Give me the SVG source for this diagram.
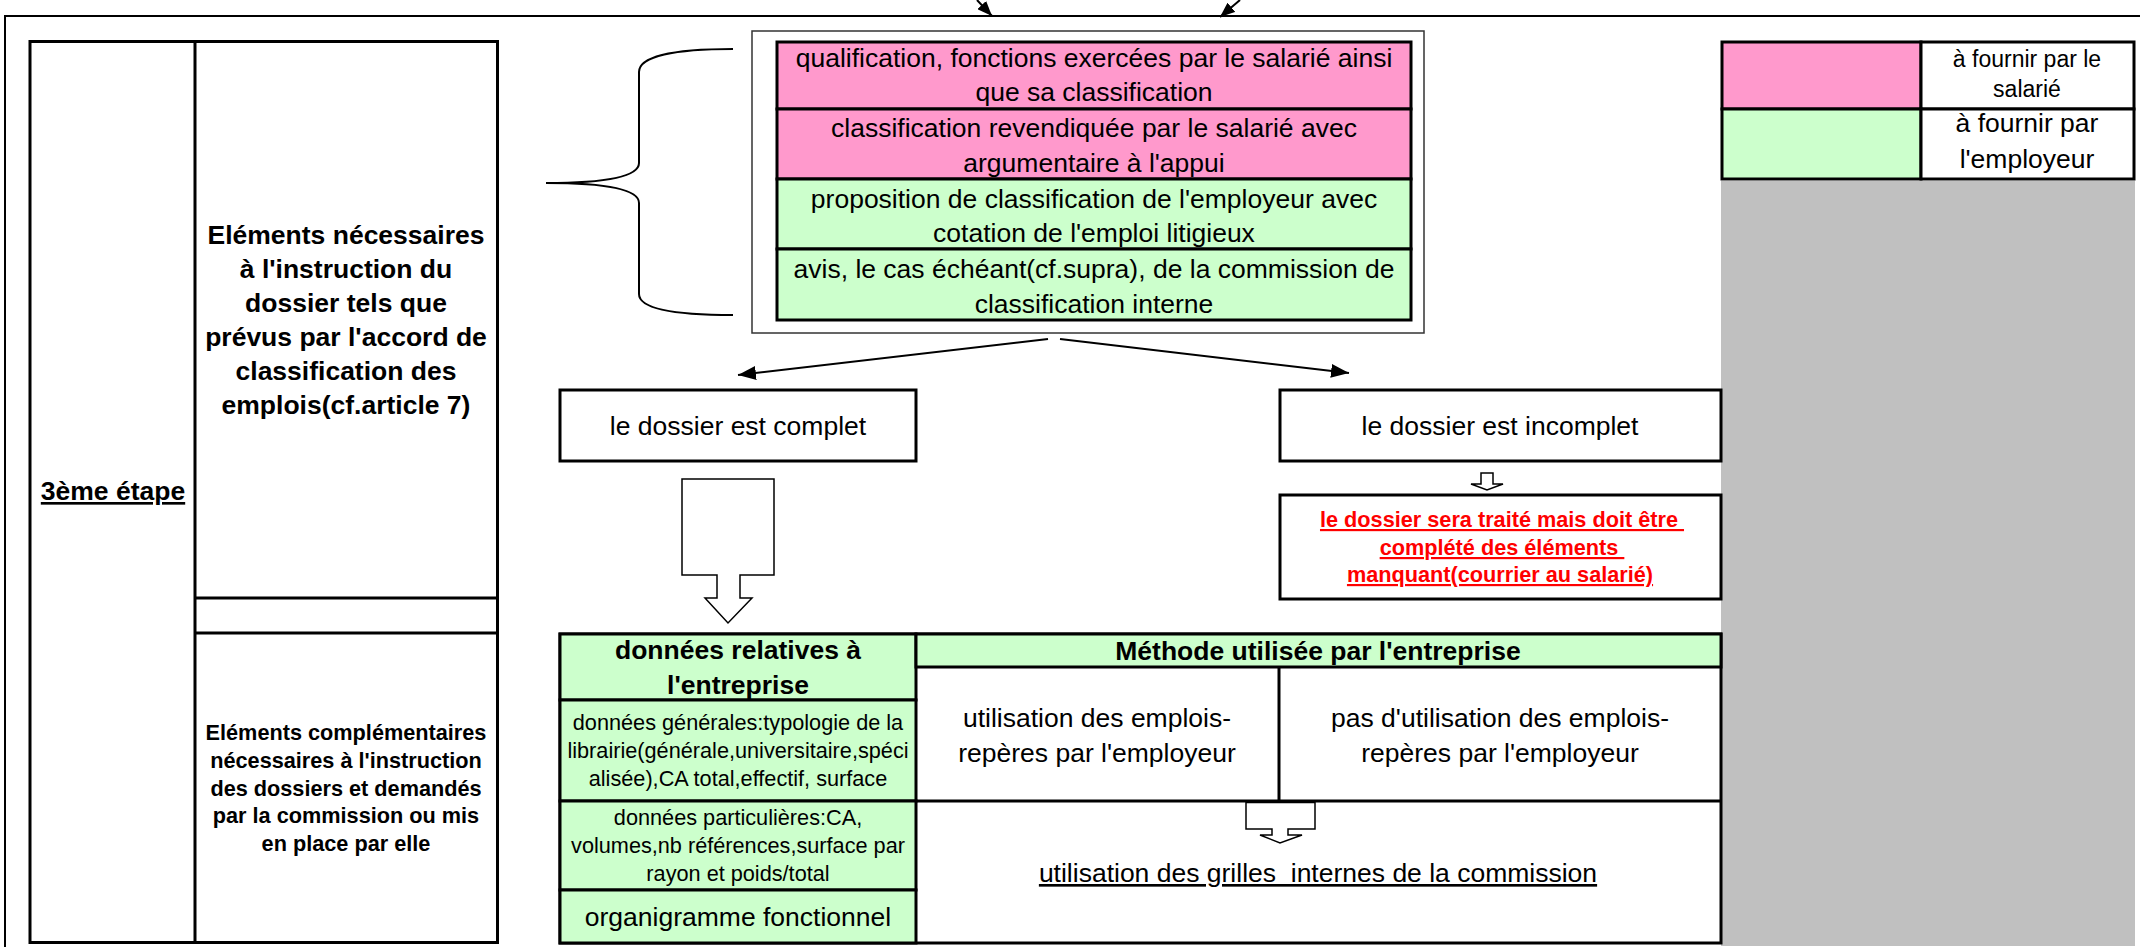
<svg xmlns="http://www.w3.org/2000/svg" width="2140" height="947" viewBox="0 0 2140 947">
<style>
text{font-family:"Liberation Sans",Arial,sans-serif;font-size:26.5px;text-anchor:middle;fill:#000}
.b{font-weight:bold}
.s{font-size:21.7px}
.m{font-size:23px}
.u{text-decoration:underline}
.red{fill:#ff0000}
.box{fill:#fff;stroke:#000;stroke-width:3}
.pk{fill:#ff99cc;stroke:#000;stroke-width:3}
.gn{fill:#ccffcc;stroke:#000;stroke-width:3}
.ln{fill:none;stroke:#000;stroke-width:3}
.thin{fill:none;stroke:#000;stroke-width:2}
.hol{fill:#fff;stroke:#000;stroke-width:1.5}
.con{fill:none;stroke:#000;stroke-width:2}
</style>
<defs>
<marker id="ah" markerUnits="userSpaceOnUse" markerWidth="18" markerHeight="14" refX="18" refY="7" orient="auto"><path d="M0,0 L18,7 L0,14 Z" fill="#000"/></marker>
<marker id="ahs" markerUnits="userSpaceOnUse" markerWidth="15" markerHeight="12" refX="15" refY="6" orient="auto"><path d="M0,0 L15,6 L0,12 Z" fill="#000"/></marker>
</defs>
<rect x="0" y="0" width="2140" height="947" fill="#fff"/>
<rect x="1721" y="181" width="414" height="765" fill="#c0c0c0"/>
<path class="thin" d="M5,947 V16 H2140"/>

<g id="etape">
<rect class="box" x="30" y="41.5" width="467.5" height="901"/>
<line class="ln" x1="195" y1="41.5" x2="195" y2="942.5"/>
<line class="ln" x1="195" y1="598" x2="497.5" y2="598"/>
<line class="ln" x1="195" y1="633" x2="497.5" y2="633"/>
<text class="b u" x="113" y="500">3ème étape</text>
<text class="b" x="346" y="244">Eléments nécessaires</text>
<text class="b" x="346" y="278">à l'instruction du</text>
<text class="b" x="346" y="312">dossier tels que</text>
<text class="b" x="346" y="346">prévus par l'accord de</text>
<text class="b" x="346" y="380">classification des</text>
<text class="b" x="346" y="414">emplois(cf.article 7)</text>
<text class="b s" x="346" y="740">Eléments complémentaires</text>
<text class="b s" x="346" y="768">nécessaires à l'instruction</text>
<text class="b s" x="346" y="796">des dossiers et demandés</text>
<text class="b s" x="346" y="823">par la commission ou mis</text>
<text class="b s" x="346" y="851">en place par elle</text>
</g>

<g id="brace">
<path class="thin" d="M733,49 C675,49 639,56 639,72 L639,163 C639,176 610,183 546,183 C610,183 639,190 639,203 L639,294 C639,309 675,315 733,315"/>
</g>

<g id="elements">
<rect x="752" y="31" width="672" height="302" fill="#fff" stroke="#333" stroke-width="1.5"/>
<rect class="pk" x="777" y="42" width="634" height="67"/>
<rect class="pk" x="777" y="109" width="634" height="70"/>
<rect class="gn" x="777" y="179" width="634" height="70"/>
<rect class="gn" x="777" y="249" width="634" height="71"/>
<text x="1094" y="67">qualification, fonctions exercées par le salarié ainsi</text>
<text x="1094" y="101">que sa classification</text>
<text x="1094" y="137">classification revendiquée par le salarié avec</text>
<text x="1094" y="172">argumentaire à l'appui</text>
<text x="1094" y="208">proposition de classification de l'employeur avec</text>
<text x="1094" y="242">cotation de l'emploi litigieux</text>
<text x="1094" y="278">avis, le cas échéant(cf.supra), de la commission de</text>
<text x="1094" y="313">classification interne</text>
</g>

<g id="legende">
<rect class="pk" x="1722" y="42" width="199" height="67"/>
<rect class="box" x="1921" y="42" width="213" height="67"/>
<rect class="gn" x="1722" y="109" width="199" height="70"/>
<rect class="box" x="1921" y="109" width="213" height="70"/>
<text class="m" x="2027" y="67">à fournir par le</text>
<text class="m" x="2027" y="97">salarié</text>
<text x="2027" y="132">à fournir par</text>
<text x="2027" y="168">l'employeur</text>
</g>

<g id="complet">
<rect class="box" x="560" y="390" width="356" height="71"/>
<text x="738" y="435">le dossier est complet</text>
</g>

<g id="incomplet">
<rect class="box" x="1280" y="390" width="441" height="71"/>
<text x="1500" y="435">le dossier est incomplet</text>
</g>

<g id="traite">
<rect class="box" x="1280" y="495" width="441" height="104"/>
<text class="b s u red" x="1502" y="527" xml:space="preserve">le dossier sera traité mais doit être </text>
<text class="b s u red" x="1502" y="555" xml:space="preserve">complété des éléments </text>
<text class="b s u red" x="1500" y="582">manquant(courrier au salarié)</text>
</g>

<g id="donnees">
<rect class="box" x="560" y="634" width="1161" height="309"/>
<rect class="gn" x="560" y="634" width="356" height="66"/>
<rect class="gn" x="560" y="700" width="356" height="101"/>
<rect class="gn" x="560" y="801" width="356" height="89"/>
<rect class="gn" x="560" y="890" width="356" height="53"/>
<text class="b" x="738" y="659">données relatives à</text>
<text class="b" x="738" y="694">l'entreprise</text>
<text class="s" x="738" y="730">données générales:typologie de la</text>
<text class="s" x="738" y="758">librairie(générale,universitaire,spéci</text>
<text class="s" x="738" y="786">alisée),CA total,effectif, surface</text>
<text class="s" x="738" y="825">données particulières:CA,</text>
<text class="s" x="738" y="853">volumes,nb références,surface par</text>
<text class="s" x="738" y="881">rayon et poids/total</text>
<text x="738" y="926">organigramme fonctionnel</text>
</g>

<g id="methode">
<rect class="gn" x="916" y="634" width="805" height="33"/>
<line class="ln" x1="916" y1="801" x2="1721" y2="801"/>
<line class="ln" x1="1279" y1="667" x2="1279" y2="801"/>
<text class="b" x="1318" y="660">Méthode utilisée par l'entreprise</text>
<text x="1097" y="727">utilisation des emplois-</text>
<text x="1097" y="762">repères par l'employeur</text>
<text x="1500" y="727">pas d'utilisation des emplois-</text>
<text x="1500" y="762">repères par l'employeur</text>
<text class="u" x="1318" y="882" xml:space="preserve">utilisation des grilles  internes de la commission</text>
</g>

<g id="connecteurs">
<line class="con" x1="977" y1="0" x2="992" y2="16" marker-end="url(#ahs)"/>
<line class="con" x1="1240" y1="0" x2="1220" y2="17" marker-end="url(#ahs)"/>
<line class="con" x1="1048" y1="339" x2="738" y2="375" marker-end="url(#ah)"/>
<line class="con" x1="1060" y1="339" x2="1349" y2="373" marker-end="url(#ah)"/>
<path class="hol" d="M682,479 H774 V575 H740 V598 H752 L728,623 L705,598 H717 V575 H682 Z"/>
<path class="hol" d="M1481,473 H1493 V484 H1503 L1487,490 L1471,484 H1481 Z"/>
<path class="hol" d="M1246,802.5 H1315 V829 H1288 V835 H1302 L1280,843 L1260,835 H1272 V829 H1246 Z"/>
</g>
</svg>
